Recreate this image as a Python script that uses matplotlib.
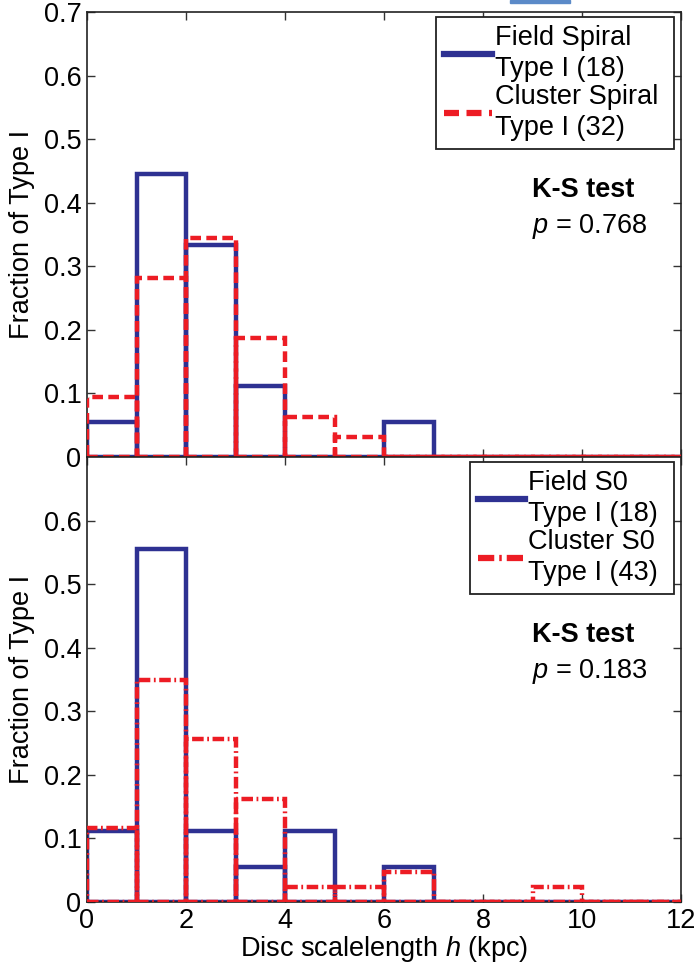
import numpy as np
import matplotlib
matplotlib.use("Agg")
from matplotlib import pyplot as plt
from matplotlib.lines import Line2D
from matplotlib.patches import Rectangle

plt.rcParams['font.family'] = ['Liberation Sans', 'DejaVu Sans']
plt.rcParams['mathtext.fontset'] = 'custom'
plt.rcParams['mathtext.rm'] = 'Liberation Sans'
plt.rcParams['mathtext.it'] = 'Liberation Sans:italic'
plt.rcParams['mathtext.bf'] = 'Liberation Sans:bold'

# bins of 1 kpc, 0..12
bin_left = np.arange(0, 12)

# fractions (counts / N)
field_spiral = np.array([1, 8, 6, 2, 0, 0, 1, 0, 0, 0, 0, 0]) / 18
cluster_spiral = np.array([3, 9, 11, 6, 2, 1, 0, 0, 0, 0, 0, 0]) / 32
field_s0 = np.array([2, 10, 2, 1, 2, 0, 1, 0, 0, 0, 0, 0]) / 18
cluster_s0 = np.array([5, 15, 11, 7, 1, 1, 2, 0, 0, 1, 0, 0]) / 43

top_labels = ['Field Spiral\nType I (18)', 'Cluster Spiral\nType I (32)']
bot_labels = ['Field S0\nType I (18)', 'Cluster S0\nType I (43)']
p_values = ['0.768', '0.183']

blue = '#2e3192'
red = '#ed1c24'
fs = 19.5
dashed = (0, (2.4, 1.2))
dashdot = (0, (2.6, 0.8, 0.4, 0.8))

fig = plt.figure(figsize=(6.95, 9.65), dpi=100)
ax1 = fig.add_axes([87/695, 1-457/965, 594/695, 445/965])
ax2 = fig.add_axes([87/695, 1-902/965, 594/695, 445/965])

panels = [
    (ax1, field_spiral, cluster_spiral, top_labels, dashed, p_values[0]),
    (ax2, field_s0, cluster_s0, bot_labels, dashdot, p_values[1]),
]

for ax, blue_vals, red_vals, labels, red_ls, pv in panels:
    ax.bar(bin_left, blue_vals, width=1, align='edge', fill=False,
           edgecolor=blue, linewidth=3.2, linestyle='-', zorder=2)
    ax.bar(bin_left, red_vals, width=1, align='edge', fill=False,
           edgecolor=red, linewidth=3.2, linestyle=red_ls, zorder=3)
    ax.set_xlim(0, 12)
    ax.set_ylim(0, 0.7)
    ax.set_xticks(np.arange(0, 13, 2))
    ax.tick_params(direction='in', top=True, right=True, length=6, width=1,
                   labelsize=fs, pad=4, color='#333333')
    for s in ax.spines.values():
        s.set_linewidth(1.2)
        s.set_color('#222222')
    ax.set_ylabel('Fraction of Type I', fontsize=fs, labelpad=6)

    handles = [Line2D([], [], color=blue, lw=4.5, ls='-'),
               Line2D([], [], color=red, lw=4.5, ls=red_ls)]
    leg = ax.legend(handles, labels, loc='upper right',
                    bbox_to_anchor=(0.988, 0.988), fontsize=fs,
                    handlelength=1.75, handletextpad=0.12, labelspacing=0.05,
                    borderpad=0.3, borderaxespad=0, fancybox=False,
                    framealpha=1, edgecolor='#222222')
    leg.get_frame().set_linewidth(1.3)
    for t in leg.get_texts():
        t.set_linespacing(1.25)
        t.set_text(t.get_text().replace('\n', ' \n') + ' ')

    ax.text(9.0, 0.42, 'K-S test', fontsize=fs, fontweight='bold',
            va='center', ha='left')
    ax.text(9.0, 0.362, '$p$ = ' + pv, fontsize=fs, va='center', ha='left')

ax1.set_yticks(np.arange(0, 0.71, 0.1))
ax1.set_yticklabels(['0', '0.1', '0.2', '0.3', '0.4', '0.5', '0.6', '0.7'])
ax1.tick_params(labelbottom=False)
ax2.set_yticks(np.arange(0, 0.61, 0.1))
ax2.set_yticklabels(['0', '0.1', '0.2', '0.3', '0.4', '0.5', '0.6'])
ax2.set_xlabel('Disc scalelength $h$ (kpc)', fontsize=fs, labelpad=0)

# small stray blue mark at the top edge of the original image
fig.patches.append(Rectangle((510/695, 1-3/965), 60/695, 3/965,
                             color='#5b8ac8', transform=fig.transFigure))

fig.savefig('out.png', dpi=100)
